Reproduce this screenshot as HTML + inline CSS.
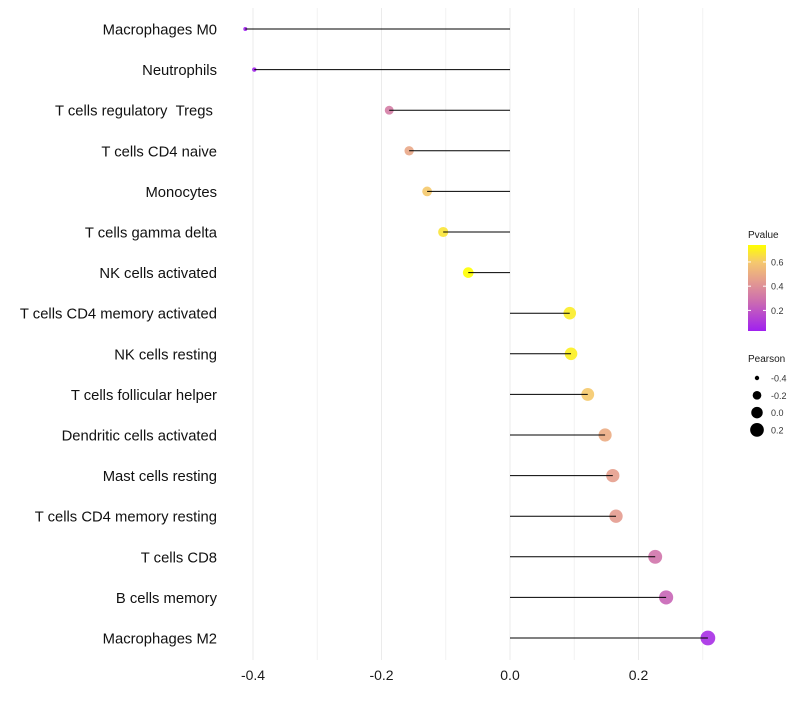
<!DOCTYPE html>
<html><head><meta charset="utf-8"><style>
body{margin:0;background:#fff;font-family:"Liberation Sans",sans-serif}
</style></head><body>
<svg id="c" width="800" height="700" xmlns="http://www.w3.org/2000/svg"></svg>
<script>
const categories=["Macrophages M0","Neutrophils","T cells regulatory\u00a0\u00a0Tregs\u00a0","T cells CD4 naive","Monocytes","T cells gamma delta","NK cells activated","T cells CD4 memory activated","NK cells resting","T cells follicular helper","Dendritic cells activated","Mast cells resting","T cells CD4 memory resting","T cells CD8","B cells memory","Macrophages M2"];
const pearson=[-0.412,-0.398,-0.188,-0.157,-0.129,-0.104,-0.065,0.093,0.095,0.121,0.148,0.160,0.165,0.226,0.243,0.308];
const pvalue=[0.03,0.04,0.33,0.48,0.6,0.67,0.76,0.69,0.7,0.6,0.5,0.45,0.44,0.3,0.25,0.07];
const xTicks=[-0.4,-0.2,0.0,0.2];
const xMinor=[-0.3,-0.1,0.1,0.3];
const colTicks=[0.2,0.4,0.6];
const sizeTicks=[-0.4,-0.2,0.0,0.2];
const NS="http://www.w3.org/2000/svg",svg=document.getElementById('c');
function mk(t,a,p){const e=document.createElementNS(NS,t);for(const k in a)e.setAttribute(k,a[k]);(p||svg).appendChild(e);return e;}
const x=v=>510+v*642.5;
const y=i=>29+i*40.6;
const pMin=0.03,pMax=0.74;
const stops=[[0,[160,32,240]],[0.35,[205,110,175]],[0.6,[230,160,140]],[0.8,[245,200,110]],[1,[255,255,0]]];
function col(p){let t=Math.max(0,Math.min(1,(p-pMin)/(pMax-pMin)));for(let i=1;i<stops.length;i++){if(t<=stops[i][0]){const a=stops[i-1],b=stops[i],f=(t-a[0])/(b[0]-a[0]);return 'rgb('+a[1].map((c,j)=>Math.round(c+(b[1][j]-c)*f)).join(',')+')';}}return 'rgb(255,255,0)';}
const r=v=>Math.sqrt(4+70*Math.max(0,v+0.412));
for(const v of xMinor){const l=mk('line',{x1:x(v),x2:x(v),y1:8,y2:660,stroke:'#f2f2f2','stroke-width':1});

}
for(const v of xTicks){const l=mk('line',{x1:x(v),x2:x(v),y1:8,y2:660,stroke:'#ebebeb','stroke-width':1});


const t=mk('text',{x:x(v),y:680,'text-anchor':'middle','font-size':14,fill:'#1a1a1a'});t.textContent=v.toFixed(1);

}
categories.forEach((c,i)=>{
const t=mk('text',{x:217,y:y(i)+5.5,'text-anchor':'end','font-size':14.8,fill:'#111'});t.textContent=c;


const d=mk('circle',{cx:x(pearson[i]),cy:y(i),r:r(pearson[i]),fill:col(pvalue[i]),'fill-opacity':0.9});


const l=mk('line',{x1:x(0),x2:x(pearson[i]),y1:y(i),y2:y(i),stroke:'#000','stroke-width':1});


});
const lt=mk('text',{x:748,y:238,'font-size':10,fill:'#1a1a1a'});lt.textContent='Pvalue';


const defs=mk('defs',{});const g=mk('linearGradient',{id:'g',x1:0,y1:1,x2:0,y2:0},defs);
stops.forEach(s=>mk('stop',{offset:s[0],'stop-color':'rgb('+s[1].join(',')+')'},g));
const cb=mk('rect',{x:748,y:245,width:18,height:86,fill:'url(#g)'});


const cy=p=>331-(p-pMin)/(pMax-pMin)*86;
for(const p of colTicks){mk('line',{x1:748,x2:751,y1:cy(p),y2:cy(p),stroke:'#fff'});mk('line',{x1:763,x2:766,y1:cy(p),y2:cy(p),stroke:'#fff'});
const t=mk('text',{x:771,y:cy(p)+3.5,'font-size':9,fill:'#333'});t.textContent=p.toFixed(1);

}
const st=mk('text',{x:748,y:362,'font-size':10,fill:'#1a1a1a'});st.textContent='Pearson';


sizeTicks.forEach((v,i)=>{const yy=378+i*17.3;
const c=mk('circle',{cx:757,cy:yy,r:r(v),fill:'#000'});


const t=mk('text',{x:771,y:yy+3.5,'font-size':9,fill:'#333'});t.textContent=v.toFixed(1);

});
</script>
</body></html>
